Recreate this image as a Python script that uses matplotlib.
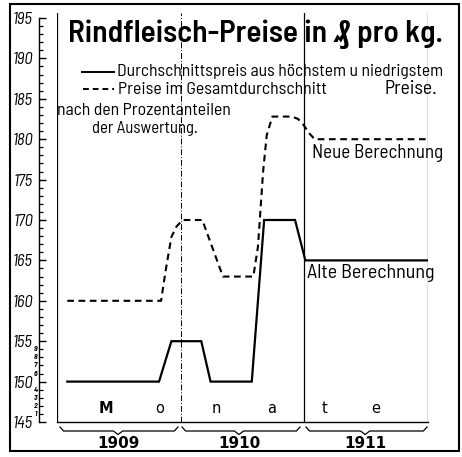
import matplotlib
matplotlib.use("Agg")
import matplotlib.pyplot as plt
from matplotlib.lines import Line2D
from matplotlib.patches import Rectangle
from matplotlib.ticker import MultipleLocator

# ---------------- data ----------------
solid_months = [1, 9.9, 11.1, 14.0, 14.9, 18.9, 20.1, 23.1, 24.1, 36]
solid_prices = [150, 150, 155, 155, 150, 150, 170, 170, 165, 165]

dashed_months = [1, 10.1, 10.55, 11.1, 11.6, 12.2, 14.1, 16.1, 19.05, 19.5,
                 20.0, 20.35, 20.9, 22.8, 23.4, 23.9, 24.5, 25.0, 36]
dashed_prices = [160, 160, 163.8, 167.9, 169.2, 170, 170, 163, 163, 166.7,
                 176, 180.5, 182.8, 182.8, 182.5, 181.8, 180.7, 180, 180]

years = ["1909", "1910", "1911"]
year_bounds = [0, 12, 24, 36]
month_letters = ["M", "o", "n", "a", "t", "e"]
month_letter_pos = [4.75, 10.0, 15.43, 20.86, 25.96, 30.95]
major_ticks = [145, 150, 155, 160, 165, 170, 175, 180, 185, 190, 195]
small_tick_vals = [146, 147, 148, 149, 151, 152, 153, 154]
small_tick_labels = ["1", "2", "3", "4", "6", "7", "8", "9"]

title = "Rindfleisch-Preise in \u20b0 pro kg."
legend_solid = "Durchschnittspreis aus höchstem u niedrigstem"
legend_dashed = "Preise im Gesamtdurchschnitt"
legend_extra = ["Preise.", "nach den Prozentanteilen", "der Auswertung."]

# ---------------- fonts ----------------
FAM = ["Barlow Semi Condensed", "Barlow Condensed", "Liberation Sans", "DejaVu Sans"]

W, H = 462, 457
fig = plt.figure(figsize=(W / 100, H / 100), dpi=100)
renderer = fig.canvas.get_renderer()

def fx(px):
    return px / W

def fy(py):
    return 1 - py / H

ax = fig.add_axes([fx(57), fy(422), (428 - 57) / W, (422 - 13) / H])
ax.set_xlim(0, 36)
ax.set_ylim(145, 195 + 5 / 8.08)

for s in ["top", "right"]:
    ax.spines[s].set_visible(False)
ax.spines["bottom"].set_linewidth(1.0)
ax.spines["left"].set_position(("outward", 18 * 0.72))
ax.spines["left"].set_bounds(145, 195)
ax.spines["left"].set_linewidth(1.0)

ax.set_xticks([])
ax.set_yticks(major_ticks)
ax.yaxis.set_minor_locator(MultipleLocator(1))
ax.tick_params(axis="y", which="major", direction="in", length=5, width=1.0, pad=4.5)
ax.tick_params(axis="y", which="minor", direction="in", length=3, width=0.9)
for lab in ax.get_yticklabels():
    lab.set_fontfamily(FAM)
    lab.set_fontstyle("italic")
    lab.set_fontsize(12)

# small auxiliary digits
ytr = ax.get_yaxis_transform()
for v, s in zip(small_tick_vals, small_tick_labels):
    ax.text(-(57 - 35.5) / 371, v, s, transform=ytr, fontsize=5.5, fontstyle="italic",
            fontweight="bold", ha="center", va="center", family=FAM, clip_on=False)

# vertical year separators
for xb in year_bounds:
    if xb == 12:
        ax.axvline(xb, color="black", lw=0.7, ls=(0, (6, 2, 1, 2)))
    else:
        ax.axvline(xb, color="black", lw=0.9)

# data lines
ax.plot(solid_months, solid_prices, color="black", lw=1.6, solid_joinstyle="miter")
ax.plot(dashed_months, dashed_prices, color="black", lw=1.5, ls=(0, (3.2, 2.2)))

# month letters
for s, x in zip(month_letters, month_letter_pos):
    ax.text(x, 145 + 9 / 8.08, s, ha="center", va="baseline", fontsize=10.5,
            fontweight="bold" if s == "M" else "normal", family="DejaVu Sans")

# braces and years
xtr = ax.get_xaxis_transform()
def afy(py):
    return (422 - py) / 409

brace_spans = [(0.29, 11.74, 5.92), (12.13, 23.58, 17.66), (24.16, 35.9, 29.9)]
for (x0, x1, xm), yr in zip(brace_spans, years):
    xs = [x0, x0 + 0.35, xm - 0.45, xm, xm + 0.45, x1 - 0.35, x1]
    ys = [afy(427), afy(431), afy(431), afy(434.5), afy(431), afy(431), afy(427)]
    ax.add_line(Line2D(xs, ys, transform=xtr, color="black", lw=0.9, clip_on=False))
    ax.text(xm, afy(448), yr, transform=xtr, ha="center", va="baseline",
            fontsize=11, fontweight="bold", family="DejaVu Sans", clip_on=False)

# ---------------- text helpers ----------------
def place(s, x0, x1, base, size, **kw):
    t = fig.text(fx(x0), fy(base), s, ha="left", va="baseline", fontsize=size,
                 family=FAM, **kw)
    w = t.get_window_extent(renderer).width
    t.set_fontsize(size * (x1 - x0) / w)
    return t

place(title, 68, 442, 42, 22, fontweight="semibold")
place(legend_solid, 117, 442, 76, 12)
place(legend_dashed, 118, 327, 94, 12)
place(legend_extra[0], 384, 437, 94, 12)
place(legend_extra[1], 57, 232, 115, 12)
place(legend_extra[2], 92, 198, 133, 12)
place("Neue Berechnung", 312, 443, 158, 12)
place("Alte Berechnung", 307, 435, 278, 12)

fig.add_artist(Line2D([fx(82), fx(114)], [fy(72), fy(72)], color="black", lw=1.4))
fig.add_artist(Line2D([fx(83), fx(114)], [fy(89), fy(89)], color="black", lw=1.4,
                      ls=(0, (3, 2))))

# outer frame
fig.add_artist(Rectangle((fx(10), fy(451)), (459 - 10) / W, (451 - 4) / H,
                         transform=fig.transFigure, fill=False, lw=1.5, color="black"))

fig.savefig("out.png", dpi=100)
